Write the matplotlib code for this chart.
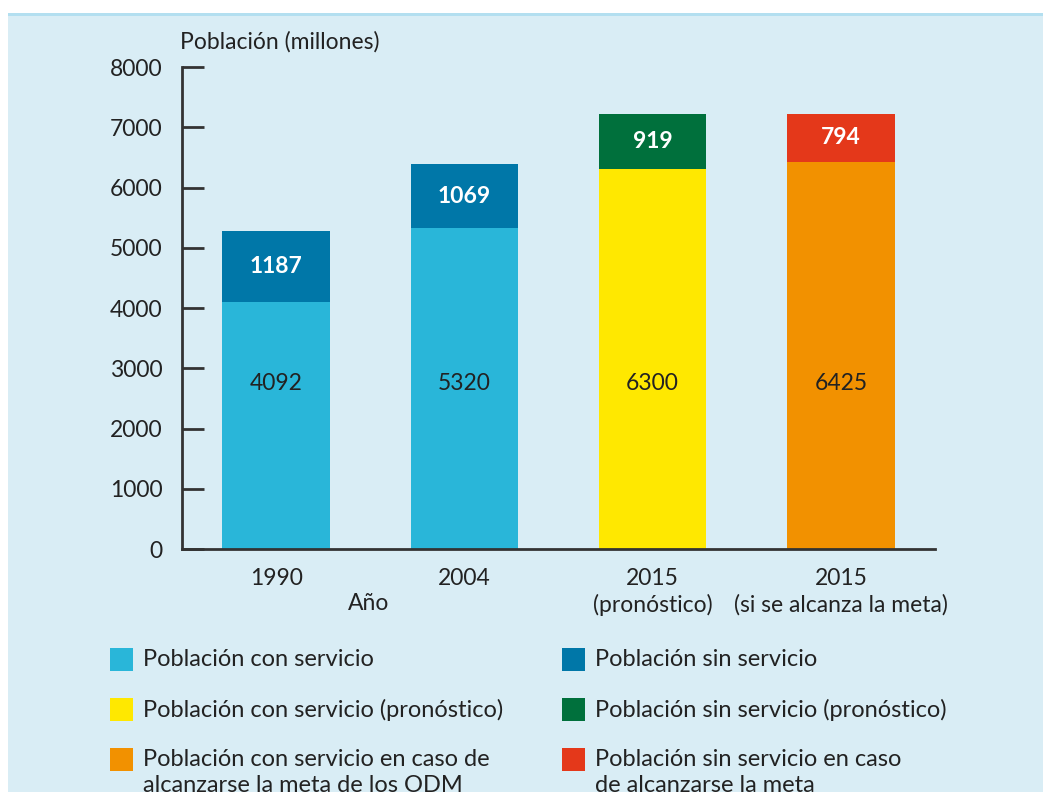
import matplotlib
matplotlib.use("Agg")
import matplotlib.pyplot as plt
import matplotlib.patches as mpatches

# ---------------------------------------------------------------------------
# Data
# ---------------------------------------------------------------------------
categories = ["1990", "2004", "2015\n(pronóstico)", "2015\n(si se alcanza la meta)"]
con_servicio = [4092, 5320, 6300, 6425]
sin_servicio = [1187, 1069, 919, 794]

con_colors = ["#29b6d9", "#29b6d9", "#ffe800", "#f29100"]
sin_colors = ["#0077a8", "#0077a8", "#00703c", "#e4381a"]

legend_labels = [
    "Población con servicio",
    "Población con servicio (pronóstico)",
    "Población con servicio en caso de\nalcanzarse la meta de los ODM",
    "Población sin servicio",
    "Población sin servicio (pronóstico)",
    "Población sin servicio en caso\nde alcanzarse la meta",
]
legend_colors = ["#29b6d9", "#ffe800", "#f29100", "#0077a8", "#00703c", "#e4381a"]

plt.rcParams["font.family"] = ["Lato", "DejaVu Sans"]
TXT = "#222222"
AXC = "#333333"
BG = "#d9edf5"
FS = 16.5

W, H = 1043, 792
fig = plt.figure(figsize=(W / 100, H / 100), dpi=100, facecolor="white")

# light blue panel + top rule
fig.patches.append(mpatches.Rectangle((8 / W, 0), 1, 1 - 16 / H, transform=fig.transFigure,
                                      facecolor=BG, edgecolor="none", zorder=-10))
fig.patches.append(mpatches.Rectangle((8 / W, 1 - 16 / H), 1, 3 / H, transform=fig.transFigure,
                                      facecolor="#b3dff0", edgecolor="none", zorder=-10))

ax = fig.add_axes([182 / W, 1 - 549 / H, (935 - 182) / W, (549 - 67) / H])
ax.set_facecolor("none")

x = list(range(len(categories)))
bw = 0.57
ax.bar(x, con_servicio, width=bw, color=con_colors, zorder=2)
ax.bar(x, sin_servicio, width=bw, bottom=con_servicio, color=sin_colors, zorder=2)

for xi, c, s in zip(x, con_servicio, sin_servicio):
    ax.text(xi, 2740, f"{c}", ha="center", va="center", fontsize=FS, color=TXT)
    ax.text(xi, c + s / 2, f"{s}", ha="center", va="center", fontsize=FS,
            color="white", fontweight="bold")

ax.set_xlim(-0.5, 3.5)
ax.set_ylim(0, 8000)
ax.set_yticks(range(0, 8001, 1000))
ax.set_xticks(x)
ax.set_xticklabels(categories, fontsize=FS, color=TXT, linespacing=1.25)
ax.tick_params(axis="y", direction="in", length=16, width=2, color=AXC,
               labelsize=FS, labelcolor=TXT, pad=14)
ax.tick_params(axis="x", length=0, pad=14)

for side in ("top", "right"):
    ax.spines[side].set_visible(False)
for side in ("left", "bottom"):
    ax.spines[side].set_color(AXC)
    ax.spines[side].set_linewidth(2)

fig.text(180 / W, 1 - 42 / H, "Población (millones)", ha="left", va="center",
         fontsize=FS, color=TXT)
fig.text(369 / W, 1 - 603 / H, "Año", ha="center", va="center", fontsize=FS, color=TXT)

# legend, two columns of three entries
rows_y = [660, 710, 760]
cols_x = [110, 562]
for i, (lab, col) in enumerate(zip(legend_labels, legend_colors)):
    cx = cols_x[i // 3]
    cy = rows_y[i % 3]
    fig.patches.append(mpatches.Rectangle((cx / W, 1 - (cy + 11) / H), 23 / W, 23 / H,
                                          transform=fig.transFigure,
                                          facecolor=col, edgecolor="none"))
    lines = lab.split("\n")
    for j, line in enumerate(lines):
        fig.text((cx + 33) / W, 1 - (cy + 25 * j) / H, line, ha="left", va="center",
                 fontsize=17, color=TXT)

fig.savefig("out.png", dpi=100, facecolor=fig.get_facecolor())
